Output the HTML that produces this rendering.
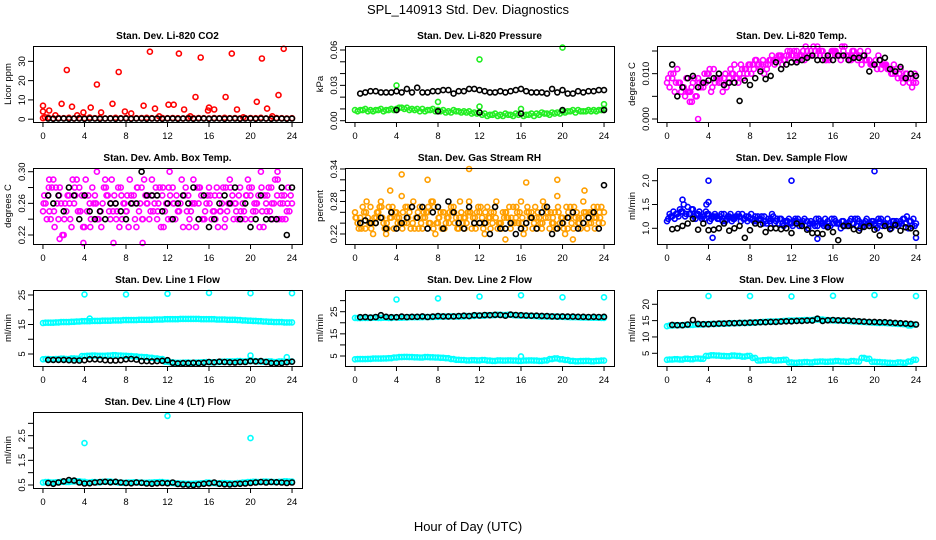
<!DOCTYPE html>
<html><head><meta charset="utf-8"><style>
html,body{margin:0;padding:0;background:#fff}
svg{display:block}
text{font-family:"Liberation Sans",Arial,sans-serif}
</style></head><body>
<svg id="chart" width="936" height="540" viewBox="0 0 936 540" xmlns="http://www.w3.org/2000/svg">
<rect x="0" y="0" width="936" height="540" fill="#fff"/>
<text x="468" y="14" text-anchor="middle" font-size="13">SPL_140913  Std. Dev. Diagnostics</text>
<text x="468" y="531" text-anchor="middle" font-size="13">Hour of Day (UTC)</text>
</svg>
<script>
// ---------- DATA ----------
const co2Band=[0.5,0.8,0.4,0.6,0.5,0.7,0.4,0.6,0.5,0.8,0.5,0.6,0.4,0.5,0.7,0.5,0.6,0.4,0.5,0.6,0.7,0.5,0.4,0.6,0.5,0.6,0.5,0.4,0.7,0.5,0.6,0.5,0.4,0.6,0.5,0.7,0.5,0.6,0.4,0.5,0.6,0.5,0.7,0.4,0.5,0.6,0.5,0.4,0.5];
const co2OutH=[0.0,0.0,0.2,0.6,1.2,1.8,2.3,2.8,3.3,3.9,4.6,5.2,5.6,6.7,7.3,7.9,8.5,9.7,10.3,10.8,11.2,12.1,12.6,13.1,13.6,14.2,14.7,15.2,15.9,16.0,16.5,17.6,18.2,18.7,19.3,20.6,21.1,21.6,22.1,22.7,23.2];
const co2OutV=[7,4,1,4.5,2,8,25.5,6.5,2,3.5,6,18,3.5,8,24.5,4,3,7,35,5.5,1.5,7.5,7.5,34,5,1.5,11.5,32,4.5,6,5,11.5,34,5,1,9,31.5,5.5,1.5,12.5,36.5];
const co2Black=[0.3,0.2,0.3,0.3,0.2,0.3,0.3,0.2,0.3,0.3,0.2,0.3,0.3,0.2,0.3,0.3,0.2,0.3,0.3,0.2,0.3,0.3,0.2,0.3,0.3,0.2,0.3,0.3,0.2,0.3,0.3,0.2,0.3,0.3,0.2,0.3,0.3,0.2,0.3,0.3,0.2,0.3,0.3,0.2,0.3,0.3,0.2,0.3];

const presGreenA=[0.009,0.009,0.010,0.009,0.009,0.010,0.009,0.010,0.010,0.011,0.011,0.010,0.010,0.010,0.009,0.010,0.009,0.009,0.008,0.009,0.008,0.008,0.008,0.007,0.007,0.006,0.005,0.006,0.005,0.006,0.005,0.006,0.006,0.005,0.006,0.006,0.007,0.006,0.007,0.007,0.008,0.008,0.009,0.009,0.008,0.009,0.009,0.009,0.010];
const presGreenB=[0.008,0.009,0.008,0.008,0.009,0.008,0.009,0.009,0.011,0.010,0.009,0.009,0.008,0.008,0.009,0.008,0.008,0.007,0.007,0.008,0.007,0.007,0.006,0.006,0.005,0.004,0.005,0.004,0.004,0.005,0.004,0.005,0.004,0.005,0.004,0.005,0.006,0.005,0.006,0.006,0.007,0.008,0.007,0.008,0.008,0.008,0.008,0.009];
const presOutH=[4,8,12,12,16,20,24];
const presOutV=[0.030,0.016,0.052,0.012,0.010,0.062,0.014];
const presBlack=[0.023,0.024,0.025,0.025,0.024,0.024,0.024,0.025,0.024,0.027,0.024,0.028,0.024,0.024,0.025,0.025,0.026,0.026,0.023,0.025,0.025,0.027,0.027,0.026,0.025,0.024,0.024,0.025,0.024,0.025,0.026,0.027,0.025,0.024,0.024,0.024,0.023,0.027,0.024,0.026,0.023,0.023,0.025,0.024,0.025,0.025,0.026,0.026];
const presBlackLowH=[4,8,12,16,20,24];
const presBlackLowV=[0.009,0.008,0.007,0.006,0.009,0.009];

const tempMagA=[8,9,11,7,6,8,9,7,10,11,8,9,9,12,10,11,12,13,11,12,13,13,14,14,14,15,14,15,14,16,15,14,15,14,15,14,15,14,14,13,12,13,12,11,10,11,10,9,8];
const tempMagB=[7,6,8,5,6,5,7,8,6,9,8,7,10,9,11,10,12,12,13,12,13,14,13,14,15,14,13,14,15,14,13,14,15,13,14,13,14,12,13,12,11,12,11,10,9,8,9,8];
const tempMagC=[9,10,8,7,6,9,8,10,11,8,9,10,11,9,12,11,10,13,12,11,14,13,12,15,14,13,15,14,16,15,14,13,15,14,16,13,14,15,13,12,13,11,12,10,11,9,10,7];
const tempMagD=[10,8,6,9,7,5,8,10,7,9,6,8,10,8,9,12,11,12,10,13,12,14,13,15,13,14,16,15,14,15,13,15,14,16,14,15,13,14,15,12,14,12,11,12,10,9,8,10];
const tempOutH=[3,2.2,2.4];
const tempOutV=[0,3.8,3.8];
const tempBlack=[12,5,7,9,9.5,7,8,8.5,9,10,7.5,8,8,4,8.5,7.5,9,10.5,8.8,9.5,12.5,11,12,12.5,12.5,13,13.5,14,13,13,14,13,14,14,13,13.5,13.5,14,10.5,12,13,13.5,11,10.5,11.5,9,10,9.5];

const ambMagA=[0.25,0.27,0.29,0.24,0.22,0.27,0.26,0.28,0.23,0.26,0.27,0.25,0.29,0.24,0.26,0.28,0.25,0.27,0.23,0.28,0.26,0.29,0.24,0.27,0.26,0.28,0.25,0.23,0.27,0.29,0.26,0.24,0.28,0.25,0.27,0.23,0.29,0.26,0.28,0.24,0.27,0.25,0.30,0.26,0.28,0.24,0.27,0.25,0.26];
const ambMagB=[0.26,0.24,0.28,0.26,0.25,0.23,0.29,0.27,0.25,0.28,0.24,0.26,0.27,0.25,0.28,0.26,0.23,0.27,0.25,0.29,0.24,0.26,0.28,0.25,0.27,0.24,0.26,0.28,0.25,0.23,0.27,0.26,0.24,0.28,0.26,0.25,0.27,0.24,0.26,0.29,0.25,0.27,0.23,0.28,0.26,0.24,0.27,0.25];
const ambMagC=[0.27,0.25,0.23,0.28,0.26,0.24,0.27,0.25,0.29,0.24,0.26,0.23,0.27,0.29,0.25,0.24,0.27,0.26,0.28,0.24,0.27,0.25,0.26,0.23,0.28,0.26,0.25,0.27,0.24,0.26,0.28,0.25,0.27,0.24,0.25,0.28,0.26,0.25,0.24,0.27,0.28,0.26,0.25,0.27,0.24,0.29,0.26,0.28];
const ambMagD=[0.24,0.28,0.26,0.22,0.27,0.29,0.25,0.23,0.27,0.26,0.24,0.28,0.25,0.27,0.23,0.26,0.29,0.24,0.26,0.27,0.25,0.28,0.23,0.26,0.24,0.27,0.29,0.25,0.26,0.28,0.24,0.27,0.25,0.23,0.28,0.26,0.24,0.27,0.25,0.28,0.26,0.23,0.27,0.25,0.29,0.26,0.24,0.27];
const ambMagE=[0.26,0.28,0.25,0.27,0.24,0.26,0.28,0.25,0.27,0.23,0.26,0.25,0.28,0.26,0.24,0.27,0.25,0.26,0.28,0.24,0.26,0.27,0.25,0.28,0.24,0.26,0.25,0.27,0.23,0.26,0.28,0.24,0.26,0.27,0.25,0.24,0.28,0.26,0.25,0.27,0.24,0.26,0.28,0.25,0.26,0.27,0.24,0.26];
const ambOutH=[1.6,3.9,6.8,9.6,0.6,5.2,12.2,22.6];
const ambOutV=[0.215,0.21,0.21,0.21,0.29,0.30,0.30,0.30];
const ambBlack=[0.27,0.26,0.27,0.25,0.28,0.27,0.24,0.27,0.25,0.24,0.25,0.24,0.26,0.26,0.25,0.24,0.26,0.26,0.30,0.27,0.27,0.27,0.25,0.26,0.24,0.26,0.27,0.26,0.28,0.24,0.27,0.23,0.24,0.26,0.27,0.26,0.28,0.24,0.26,0.23,0.24,0.27,0.24,0.24,0.24,0.28,0.22,0.28];

const rhOrA=[0.26,0.25,0.23,0.27,0.24,0.28,0.22,0.25,0.26,0.29,0.24,0.27,0.25,0.23,0.26,0.28,0.24,0.26,0.25,0.27,0.23,0.25,0.28,0.24,0.26,0.22,0.25,0.27,0.24,0.26,0.23,0.25,0.28,0.24,0.26,0.25,0.23,0.27,0.24,0.29,0.25,0.23,0.26,0.24,0.28,0.25,0.27,0.24,0.26];
const rhOrB=[0.24,0.27,0.25,0.22,0.26,0.24,0.27,0.23,0.25,0.24,0.26,0.23,0.27,0.25,0.24,0.22,0.26,0.24,0.27,0.25,0.26,0.24,0.23,0.26,0.25,0.27,0.24,0.23,0.26,0.25,0.27,0.24,0.22,0.26,0.24,0.25,0.27,0.23,0.26,0.24,0.22,0.27,0.25,0.23,0.26,0.24,0.25,0.27];
const rhOrC=[0.25,0.23,0.28,0.24,0.26,0.25,0.23,0.27,0.24,0.26,0.25,0.28,0.23,0.26,0.24,0.27,0.25,0.23,0.26,0.24,0.28,0.25,0.26,0.23,0.27,0.24,0.26,0.28,0.23,0.25,0.24,0.26,0.25,0.27,0.23,0.26,0.28,0.25,0.24,0.26,0.23,0.25,0.27,0.24,0.30,0.26,0.23,0.25];
const rhOrD=[0.23,0.26,0.24,0.25,0.27,0.23,0.25,0.26,0.24,0.27,0.23,0.25,0.24,0.26,0.28,0.24,0.23,0.25,0.26,0.23,0.24,0.26,0.25,0.27,0.23,0.25,0.26,0.24,0.25,0.27,0.24,0.26,0.23,0.25,0.27,0.24,0.25,0.26,0.23,0.25,0.27,0.24,0.26,0.25,0.23,0.26,0.27,0.24];
const rhOrE=[0.25,0.24,0.26,0.23,0.25,0.27,0.24,0.26,0.25,0.23,0.27,0.24,0.26,0.25,0.27,0.23,0.25,0.26,0.24,0.26,0.25,0.23,0.26,0.25,0.24,0.26,0.23,0.25,0.24,0.26,0.25,0.27,0.24,0.26,0.25,0.23,0.24,0.26,0.25,0.27,0.24,0.26,0.23,0.25,0.26,0.24,0.25,0.26];
const rhOutH=[4.5,7,11,16.5,19.5,3.4,14.5,21];
const rhOutV=[0.33,0.32,0.34,0.315,0.32,0.30,0.21,0.21];
const rhBlack=[0.24,0.245,0.24,0.24,0.25,0.23,0.26,0.23,0.24,0.25,0.27,0.25,0.27,0.23,0.26,0.27,0.23,0.28,0.26,0.24,0.23,0.27,0.24,0.24,0.24,0.22,0.27,0.23,0.23,0.24,0.22,0.23,0.24,0.25,0.23,0.26,0.27,0.22,0.23,0.24,0.25,0.26,0.23,0.24,0.25,0.26,0.23,0.31];

const flowBlueA=[1.15,1.25,1.3,1.35,1.45,1.4,1.3,1.25,1.3,1.25,1.2,1.3,1.25,1.2,1.25,1.2,1.2,1.25,1.2,1.15,1.2,1.15,1.2,1.15,1.1,1.15,1.1,1.15,1.1,1.05,1.1,1.15,1.1,1.1,1.15,1.1,1.1,1.15,1.1,1.05,1.1,1.15,1.1,1.05,1.1,1.15,1.1,1.15,1.1];
const flowBlueB=[1.3,1.2,1.4,1.25,1.3,1.2,1.25,1.35,1.2,1.25,1.3,1.2,1.15,1.25,1.3,1.15,1.2,1.25,1.1,1.2,1.25,1.1,1.05,1.2,1.15,1.05,1.2,1.1,1.05,1.15,1.2,1.05,1.15,1.0,1.1,1.2,1.05,1.1,1.2,1.15,1.0,1.05,1.2,1.15,1.05,1.2,1.0,1.2];
const flowBlueC=[1.2,1.35,1.25,1.5,1.3,1.25,1.35,1.2,1.15,1.3,1.25,1.15,1.3,1.25,1.15,1.25,1.3,1.15,1.25,1.1,1.3,1.2,1.1,1.15,1.05,1.2,1.15,1.0,1.1,1.2,1.05,1.1,1.2,1.1,1.05,1.15,1.2,1.0,1.15,1.1,1.05,1.2,1.1,1.0,1.15,1.1,1.25,1.05];
const flowBlueD=[1.25,1.3,1.35,1.3,1.4,1.3,1.2,1.3,1.25,1.2,1.15,1.25,1.2,1.3,1.2,1.25,1.15,1.2,1.25,1.15,1.1,1.2,1.15,1.1,1.2,1.1,1.05,1.15,1.2,1.1,1.05,1.2,1.1,1.15,1.05,1.1,1.2,1.05,1.1,1.15,1.2,1.1,1.05,1.15,1.1,1.2,1.15,1.05];
const flowOutH=[4,12,20,4,1.5,4.4,14.5,24,3.8];
const flowOutV=[2.0,2.0,2.2,1.55,1.6,0.8,0.78,0.8,1.5];
const flowBlack=[0.98,1.0,1.05,1.1,1.2,0.97,1.1,0.96,0.97,1.0,1.1,0.95,1.0,1.05,0.8,0.96,1.1,1.08,0.92,1.0,1.0,0.98,1.0,0.9,1.1,1.05,0.97,0.9,0.9,0.88,1.02,0.92,0.75,1.05,1.05,0.98,0.95,1.03,1.05,0.97,0.85,1.05,0.98,1.07,0.95,1.02,1.0,0.9];

const l1Top=[15.5,15.6,15.6,15.7,15.8,15.8,15.9,16,16.1,16.1,16.2,16.2,16.3,16.3,16.4,16.4,16.5,16.5,16.5,16.6,16.6,16.6,16.7,16.7,16.8,16.8,16.8,16.9,16.9,16.9,16.9,16.8,16.8,16.8,16.7,16.7,16.6,16.6,16.5,16.4,16.3,16.2,16.1,16.0,15.9,15.8,15.8,15.7,15.7];
const l1Bot=[3.2,3.3,3.2,3.3,3.4,3.3,3.5,3.4,4.3,4.4,4.5,4.4,4.4,4.5,4.6,4.5,4.4,4.3,4.2,4.0,3.9,3.7,3.5,3.3,2.4,2.2,2.0,2.0,2.1,2.0,2.1,2.2,2.3,2.2,2.3,2.4,2.5,2.5,2.6,2.5,2.6,2.6,2.5,2.4,2.5,2.3,2.5,2.4,2.5];
const l1OutH=[4,8,12,16,20,24,20,23.5,4.5];
const l1OutV=[25.2,25.2,25.4,25.7,25.6,25.6,4.5,3.9,17];
const l1Black=[3,3,3,3,2.9,2.8,2.8,2.9,3.2,3.2,3.1,2.9,2.8,2.8,2.9,3.2,3.3,3.1,2.6,2.6,2.5,2.6,2.7,2.9,2.0,1.8,1.9,1.9,2.0,1.9,2.0,2.3,2.2,2.4,2.3,2.2,2.1,2.3,2.3,2.6,2.5,2.6,2.3,1.9,1.9,1.9,2.2,2.4];

const l2Top=[22.2,22.1,22.2,22.2,22.3,22.2,22.3,22.2,22.4,22.3,22.4,22.5,22.5,22.5,22.6,22.6,22.7,22.8,22.8,22.9,22.8,22.9,23.0,23.1,23.3,23.2,23.4,23.4,23.6,23.5,23.6,23.4,23.3,23.2,23.1,23.0,22.9,22.9,22.8,22.8,22.7,22.6,22.5,22.5,22.4,22.4,22.3,22.3,22.2];
const l2Bot=[3.5,3.6,3.6,3.7,3.8,3.8,3.9,4.0,4.3,4.5,4.6,4.5,4.4,4.3,4.5,4.4,4.3,4.2,4.0,3.6,3.3,3.2,3.0,3.1,3.0,3.2,2.9,2.8,3.0,2.9,3.0,2.9,2.8,2.9,3.0,2.9,2.8,3.0,3.6,3.9,3.5,3.2,2.8,2.6,2.7,2.8,2.6,2.8,2.9];
const l2OutH=[4,8,12,16,20,24,16];
const l2OutV=[30.5,31,31.8,32.4,31.5,31.5,4.8];
const l2Black=[22.5,22.6,22.4,22.6,23.4,22.7,22.5,22.5,22.8,22.6,22.7,22.7,22.9,22.6,22.8,23.0,22.9,22.9,22.9,23,23.2,23,23.4,23.3,23.5,23.4,23.6,23.5,23.2,23.7,23.5,23.4,23.3,23.2,23.2,23.1,23,22.9,22.8,22.9,22.8,22.8,22.7,22.7,22.6,22.7,22.6,22.7];

const l3Top=[13.3,13.5,13.6,13.6,13.7,13.7,13.8,13.8,13.9,14,14,14.1,14.1,14.2,14.2,14.3,14.3,14.4,14.5,14.6,14.7,14.7,14.8,14.9,15,15,15.1,15.2,15.2,15.3,15.3,15.2,15.1,15.0,15.0,14.9,14.8,14.7,14.6,14.5,14.4,14.3,14.3,14.2,14.1,14.0,13.9,13.5,13.8];
const l3Bot=[3.0,3.1,3.2,3.1,3.3,3.2,3.4,3.3,4.2,4.4,4.3,4.2,4.1,4.3,4.2,4.0,4.2,3.6,2.8,2.9,3.0,2.8,2.9,3.0,2.2,2.1,2.2,2.3,2.2,2.4,2.5,2.4,2.5,2.6,2.5,2.4,2.6,2.5,3.6,3.3,2.4,2.3,2.2,2.1,2.0,2.2,2.1,2.5,3.0];
const l3OutH=[4,8,12,16,20,24];
const l3OutV=[22.5,22.5,22.4,22.6,22.8,22.5];
const l3Black=[13.7,13.6,13.6,13.8,15.2,14,13.9,13.9,14,14.1,14.1,14.2,14.2,14.3,14.3,14.4,14.4,14.5,14.5,14.6,14.6,14.7,14.8,14.8,14.9,14.9,15.0,15.0,15.6,14.9,15.1,15.2,15.1,15.0,15.0,14.9,14.8,14.7,14.6,14.6,14.5,14.5,14.4,14.3,14.2,14.1,14.0,13.8];

const l4Cyan=[0.6,0.62,0.6,0.61,0.63,0.62,0.64,0.65,0.63,0.6,0.62,0.61,0.63,0.64,0.62,0.6,0.59,0.6,0.61,0.6,0.59,0.6,0.61,0.62,0.6,0.58,0.57,0.56,0.55,0.55,0.56,0.57,0.6,0.58,0.57,0.58,0.57,0.56,0.58,0.6,0.62,0.63,0.62,0.64,0.63,0.62,0.63,0.65,0.64];
const l4OutH=[4,12,20];
const l4OutV=[2.2,3.3,2.4];
const l4Black=[0.58,0.55,0.6,0.65,0.7,0.68,0.6,0.56,0.57,0.6,0.62,0.63,0.61,0.63,0.6,0.58,0.57,0.6,0.59,0.56,0.55,0.57,0.58,0.57,0.6,0.54,0.52,0.51,0.5,0.52,0.55,0.57,0.6,0.55,0.53,0.52,0.54,0.55,0.56,0.58,0.6,0.62,0.6,0.62,0.61,0.6,0.58,0.6];

const xTicks=[0,4,8,12,16,20,24];

// ---------- DRAW ----------
const NS='http://www.w3.org/2000/svg';
const svg=document.getElementById('chart');
function el(tag,attrs,parent){const e=document.createElementNS(NS,tag);for(const k in attrs)e.setAttribute(k,attrs[k]);(parent||svg).appendChild(e);return e;}
function hrs(start,n,step){const a=[];for(let i=0;i<n;i++)a.push(start+i*step);return a;}
function scaleTemp(arr){return arr.map(v=>v/1000);}

const ROW_TOP=[46,168,290,412], BOX_H=76, COL_LEFT=[33,345,657], BOX_W=269;
const RED='#ff0000',GRN='#22ee22',MAG='#ff00ff',ORG='#ff9f00',BLU='#0000ff',CYA='#00ffff',BLK='#000000';

const panels=[
 {id:'co2',title:'Stan. Dev. Li-820 CO2',ylab:'Licor ppm',r:0,c:0,ylim:[-1.46,37.96],ticks:[0,10,20,30],labels:[0,10,20,30],
  series:[[hrs(0,49,0.5),co2Band,RED],[co2OutH,co2OutV,RED],[hrs(0.5,48,0.5),co2Black,BLK]]},
 {id:'pressure',title:'Stan. Dev. Li-820 Pressure',ylab:'kPa',r:0,c:1,ylim:[-0.0011,0.0634],ticks:[0,0.01,0.02,0.03,0.04,0.05,0.06],labels:['0.00',null,null,'0.03',null,null,'0.06'],
  series:[[hrs(0,49,0.5),presGreenA,GRN],[hrs(0.25,48,0.5),presGreenB,GRN],[presOutH,presOutV,GRN],[hrs(0.5,48,0.5),presBlack,BLK],[presBlackLowH,presBlackLowV,BLK]]},
 {id:'li820-temp',title:'Stan. Dev. Li-820 Temp.',ylab:'degrees C',r:0,c:2,ylim:[-0.00066,0.0161],ticks:[0,0.005,0.01,0.015],labels:['0.000',null,'0.010',null],
  series:[[hrs(0,49,0.5),scaleTemp(tempMagA),MAG],[hrs(0.25,48,0.5),scaleTemp(tempMagB),MAG],[hrs(0.12,48,0.5),scaleTemp(tempMagC),MAG],[hrs(0.37,48,0.5),scaleTemp(tempMagD),MAG],[tempOutH,scaleTemp(tempOutV),MAG],[hrs(0.5,48,0.5),scaleTemp(tempBlack),BLK]]},
 {id:'amb-box-temp',title:'Stan. Dev. Amb. Box Temp.',ylab:'degrees C',r:1,c:0,ylim:[0.2086,0.3047],ticks:[0.22,0.24,0.26,0.28,0.30],labels:['0.22',null,'0.26',null,'0.30'],
  series:[[hrs(0,49,0.5),ambMagA,MAG],[hrs(0.25,48,0.5),ambMagB,MAG],[hrs(0.12,48,0.5),ambMagC,MAG],[hrs(0.37,48,0.5),ambMagD,MAG],[hrs(0.06,48,0.5),ambMagE,MAG],[ambOutH,ambOutV,MAG],[hrs(0.5,48,0.5),ambBlack,BLK]]},
 {id:'gas-stream-rh',title:'Stan. Dev. Gas Stream RH',ylab:'percent',r:1,c:1,ylim:[0.2015,0.3418],ticks:[0.22,0.24,0.26,0.28,0.30,0.32,0.34],labels:['0.22',null,null,'0.28',null,null,'0.34'],
  series:[[hrs(0,49,0.5),rhOrA,ORG],[hrs(0.25,48,0.5),rhOrB,ORG],[hrs(0.12,48,0.5),rhOrC,ORG],[hrs(0.37,48,0.5),rhOrD,ORG],[hrs(0.06,48,0.5),rhOrE,ORG],[rhOutH,rhOutV,ORG],[hrs(0.5,48,0.5),rhBlack,BLK]]},
 {id:'sample-flow',title:'Stan. Dev. Sample Flow',ylab:'ml/min',r:1,c:2,ylim:[0.67,2.267],ticks:[1.0,1.5,2.0],labels:['1.0','1.5','2.0'],
  series:[[hrs(0,49,0.5),flowBlueA,BLU],[hrs(0.25,48,0.5),flowBlueB,BLU],[hrs(0.12,48,0.5),flowBlueC,BLU],[hrs(0.37,48,0.5),flowBlueD,BLU],[flowOutH,flowOutV,BLU],[hrs(0.5,48,0.5),flowBlack,BLK]]},
 {id:'line1-flow',title:'Stan. Dev. Line 1 Flow',ylab:'ml/min',r:2,c:0,ylim:[0.93,26.69],ticks:[5,10,15,20,25],labels:['5',null,'15',null,'25'],
  series:[[hrs(0,49,0.5),l1Top,CYA],[hrs(0.25,48,0.5),l1Top.slice(1),CYA],[hrs(0,49,0.5),l1Bot,CYA],[hrs(0.25,48,0.5),l1Bot.slice(1),CYA],[l1OutH,l1OutV,CYA],[hrs(0.5,48,0.5),l1Black,BLK]]},
 {id:'line2-flow',title:'Stan. Dev. Line 2 Flow',ylab:'ml/min',r:2,c:1,ylim:[0.48,34.8],ticks:[5,10,15,20,25,30],labels:['5',null,'15',null,'25',null],
  series:[[hrs(0,49,0.5),l2Top,CYA],[hrs(0.25,48,0.5),l2Top.slice(1),CYA],[hrs(0,49,0.5),l2Bot,CYA],[hrs(0.25,48,0.5),l2Bot.slice(1),CYA],[l2OutH,l2OutV,CYA],[hrs(0.5,48,0.5),l2Black,BLK]]},
 {id:'line3-flow',title:'Stan. Dev. Line 3 Flow',ylab:'ml/min',r:2,c:2,ylim:[1.11,24.37],ticks:[5,10,15,20],labels:['5','10','15','20'],
  series:[[hrs(0,49,0.5),l3Top,CYA],[hrs(0.25,48,0.5),l3Top.slice(1),CYA],[hrs(0,49,0.5),l3Bot,CYA],[hrs(0.25,48,0.5),l3Bot.slice(1),CYA],[l3OutH,l3OutV,CYA],[hrs(0.5,48,0.5),l3Black,BLK]]},
 {id:'line4-flow',title:'Stan. Dev. Line 4 (LT) Flow',ylab:'ml/min',r:3,c:0,ylim:[0.378,3.46],ticks:[0.5,1.0,1.5,2.0,2.5,3.0],labels:['0.5',null,'1.5',null,'2.5',null],
  series:[[hrs(0,49,0.5),l4Cyan,CYA],[hrs(0.25,48,0.5),l4Cyan.slice(1),CYA],[l4OutH,l4OutV,CYA],[hrs(0.5,48,0.5),l4Black,BLK]]}
];

panels.forEach(p=>{
  const L=COL_LEFT[p.c], T=ROW_TOP[p.r];
  const g=el('g',{});
  
  
  const xs=h=>L+(h+0.96)/25.92*BOX_W;
  const ys=v=>T+BOX_H-(v-p.ylim[0])/(p.ylim[1]-p.ylim[0])*BOX_H;
  const pts=el('g',{},g);
  
  
  p.series.forEach(([H,V,col])=>{
    for(let i=0;i<V.length&&i<H.length;i++){
      const c=el('circle',{cx:xs(H[i]).toFixed(1),cy:ys(V[i]).toFixed(1),r:2.5,fill:'none',stroke:col,'stroke-width':1.6},pts);
      
      
    }
  });
  const box=el('rect',{x:L+0.5,y:T+0.5,width:BOX_W,height:BOX_H,fill:'none',stroke:'#000','stroke-width':1},g);
  
  
  const t=el('text',{x:L+BOX_W/2,y:T-7,'text-anchor':'middle','font-size':10,'font-weight':'bold'},g);
  t.textContent=p.title;
  
  
  const xa=el('g',{},g);
  
  
  el('line',{x1:xs(0),x2:xs(24),y1:T+BOX_H+0.5,y2:T+BOX_H+0.5,stroke:'#000'},xa);
  xTicks.forEach(v=>{
    const x=xs(v);
    el('line',{x1:x,x2:x,y1:T+BOX_H,y2:T+BOX_H+5,stroke:'#000'},xa);
    const tl=el('text',{x:x,y:T+BOX_H+17,'text-anchor':'middle','font-size':9.5},xa);
    tl.textContent=v;
    
    
  });
  const ya=el('g',{},g);
  
  
  p.ticks.forEach((v,i)=>{
    const y=ys(v);
    el('line',{x1:L-5,x2:L,y1:y,y2:y,stroke:'#000'},ya);
    if(p.labels[i]!==null){
      const tl=el('text',{x:L-8,y:y,'text-anchor':'middle','font-size':9.5,transform:`rotate(-90 ${L-8} ${y})`},ya);
      tl.textContent=p.labels[i];
      
      
    }
  });
  el('line',{x1:L+0.5,x2:L+0.5,y1:ys(p.ticks[0]),y2:ys(p.ticks[p.ticks.length-1]),stroke:'#000'},ya);
  const yl=el('text',{x:L-22,y:T+BOX_H/2,'text-anchor':'middle','font-size':9.5,transform:`rotate(-90 ${L-22} ${T+BOX_H/2})`},g);
  yl.textContent=p.ylab;
  
  
});
</script>
</body></html>
